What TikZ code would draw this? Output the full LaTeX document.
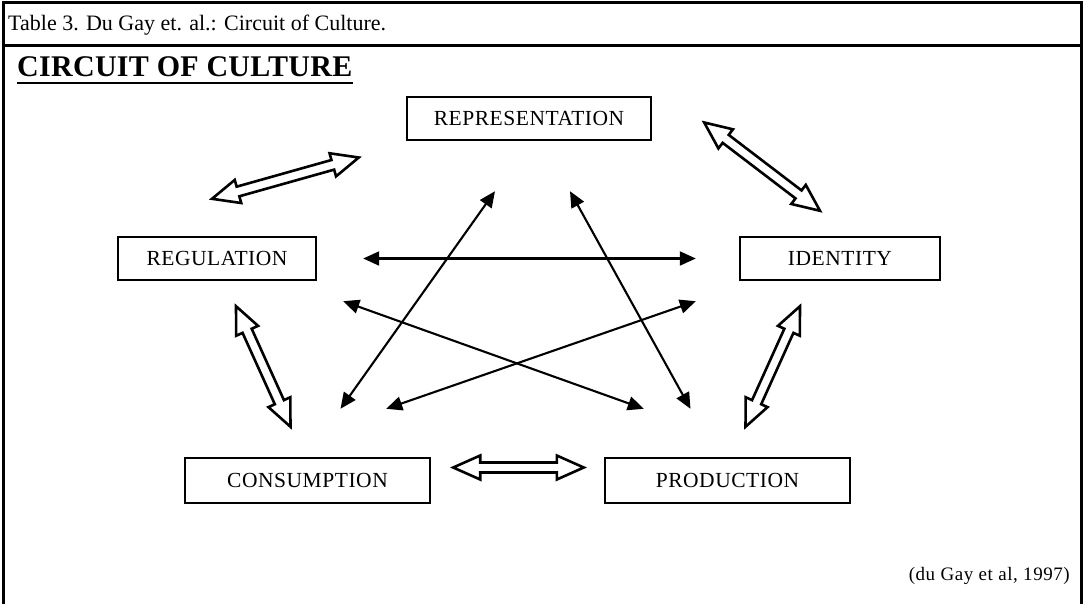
\documentclass[tikz,border=0pt]{standalone}
\usepackage{fontspec}
\setmainfont{Liberation Serif}
\newfontfamily\boxfont[LetterSpace=2.5]{Liberation Serif}
\newfontfamily\headfont[LetterSpace=1]{Liberation Serif}
\newfontfamily\srcfont[LetterSpace=3]{Liberation Serif}
\usepackage{tikz}
\usetikzlibrary{arrows.meta}
\usetikzlibrary{calc}
\newcommand{\fatarrow}[2]{%
\draw[fatarr] let \p1=(#1), \p2=(#2),
 \n1={atan2(\y2-\y1,\x2-\x1)}, \n2={veclen(\x2-\x1,\y2-\y1)} in
 [shift={(\p1)},rotate=\n1] (0,0) -- (27,12) -- (27,5) -- (\n2-27,5)
 -- (\n2-27,12) -- (\n2,0) -- (\n2-27,-12) -- (\n2-27,-5) -- (27,-5)
 -- (27,-12) -- cycle;}
\tikzset{
 box/.style={draw, line width=2.4pt, inner sep=0pt, minimum height=43pt,
  font=\boxfont\fontsize{21.5}{25}\selectfont},
 fatarr/.style={line width=2.6pt, line join=miter, fill=white},
 thinarr/.style={line width=2.1pt,
  {Triangle[length=16pt,width=14pt]}-{Triangle[length=16pt,width=14pt]}}
}

\begin{document}
\begin{tikzpicture}[x=1pt,y=-1pt]
\useasboundingbox (0,0) rectangle (1083,604);
\draw[line width=3pt] (3,604) -- (3,3) -- (1081,3) -- (1081,604);
\draw[line width=3pt] (3,46) -- (1081,46);
\node[anchor=base west, inner sep=0pt, font=\fontsize{22}{26}\selectfont] (title) at (8,31)
 {Table 3. Du Gay et. al.: Circuit of Culture.};
\node[anchor=base west, inner sep=0pt, font=\headfont\bfseries\fontsize{30}{34}\selectfont] (head) at (17,77)
 {CIRCUIT OF CULTURE};
\draw[line width=2.6pt] ([yshift=-6pt]head.base west) -- ([yshift=-6pt]head.base east);

\node[box, minimum width=244pt] (rep) at (529,118.5) {REPRESENTATION};
\node[box, minimum width=198pt] (reg) at (217,258.5) {REGULATION};
\node[box, minimum width=200pt] (id) at (840,258.5) {IDENTITY};
\node[box, minimum width=245pt, minimum height=45pt] (con) at (307.5,480.5) {CONSUMPTION};
\node[box, minimum width=245pt, minimum height=45pt] (prod) at (727.5,480.5) {PRODUCTION};

\fatarrow{[shift={(-5,-37)}]reg.north}{[shift={(-47,39)}]rep.west}
\fatarrow{[shift={(52,4)}]rep.east}{[shift={(-20,-25)}]id.north}
\fatarrow{[shift={(19,25)}]reg.south}{[shift={(-17,-30)}]con.north}
\fatarrow{[shift={(-40,25)}]id.south}{[shift={(18,-30)}]prod.north}
\fatarrow{[shift={(22,-13)}]con.east}{[shift={(-20,-13)}]prod.west}

\draw[thinarr] ([shift={(46,0)}]reg.east) -- ([shift={(-43,0)}]id.west);
\draw[thinarr] ([shift={(-34,50)}]rep.south) -- ([shift={(33,-48)}]con.north);
\draw[thinarr] ([shift={(41,50)}]rep.south) -- ([shift={(-37,-48)}]prod.north);
\draw[thinarr] ([shift={(26,20)}]reg.south east) -- ([shift={(40,-48)}]prod.north west);
\draw[thinarr] ([shift={(-43,20)}]id.south west) -- ([shift={(-45,-48)}]con.north east);

\node[anchor=base east, inner sep=0pt, font=\srcfont\fontsize{19}{22}\selectfont] (src) at (1070,580)
 {(du Gay et al, 1997)};
\end{tikzpicture}
\end{document}
